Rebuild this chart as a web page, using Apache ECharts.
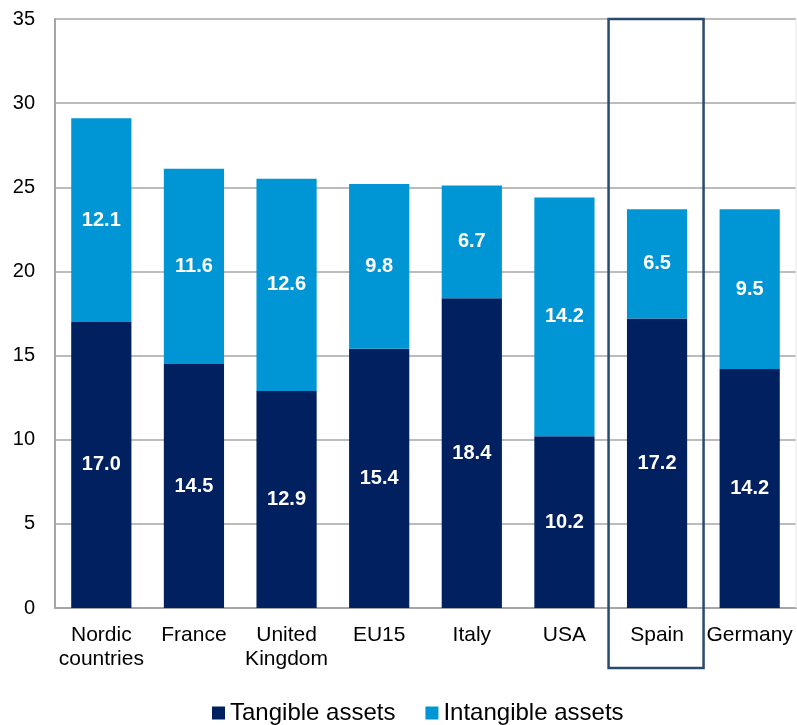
<!DOCTYPE html>
<html>
<head>
<meta charset="utf-8">
<script src="https://cdn.jsdelivr.net/npm/echarts@6/dist/echarts.min.js"></script>
<style>
  html, body { margin: 0; padding: 0; background: #fff; }
  #chart { width: 797px; height: 725px; }
</style>
</head>
<body>
<div id="chart"></div>
<script>
// Categories and asset values per country group
const categories = ['Nordic\ncountries', 'France', 'United\nKingdom', 'EU15', 'Italy', 'USA', 'Spain', 'Germany'];
const tangible = [17.0, 14.5, 12.9, 15.4, 18.4, 10.2, 17.2, 14.2];
const intangible = [12.1, 11.6, 12.6, 9.8, 6.7, 14.2, 6.5, 9.5];
const highlighted = 'Spain';

const FONT = 'Liberation Sans, Arial, sans-serif';
const chart = echarts.init(document.getElementById('chart'));

const labelStyle = {
  show: true,
  position: 'inside',
  color: '#ffffff',
  fontFamily: FONT,
  fontWeight: 'bold',
  fontSize: 20,
  formatter: p => p.value.toFixed(1)
};

chart.setOption({
  animation: false,
  backgroundColor: '#ffffff',
  grid: { left: 55, right: 1, top: 19, bottom: 117, containLabel: false },
  legend: {
    left: 212,
    top: 701,
    padding: 0,
    itemWidth: 13,
    itemHeight: 13,
    itemGap: 30,
    icon: 'rect',
    textStyle: { fontFamily: FONT, fontSize: 24, color: '#000' },
    data: ['Tangible assets', 'Intangible assets']
  },
  xAxis: {
    type: 'category',
    data: categories,
    axisLine: { lineStyle: { color: '#a6a6a6', width: 2 } },
    axisTick: { show: false },
    axisLabel: {
      color: '#000',
      fontFamily: FONT,
      fontSize: 21,
      lineHeight: 24,
      margin: 15,
      interval: 0
    }
  },
  yAxis: {
    type: 'value',
    min: 0,
    max: 35,
    interval: 5,
    axisLine: { show: true, lineStyle: { color: '#a6a6a6', width: 2 } },
    axisTick: { show: false },
    splitLine: { lineStyle: { color: '#a6a6a6', width: 1.5 } },
    axisLabel: { color: '#000', fontFamily: FONT, fontSize: 20, margin: 20 }
  },
  series: [
    {
      name: 'Tangible assets',
      type: 'bar',
      stack: 'assets',
      data: tangible,
      barWidth: '65%',
      itemStyle: { color: '#00205F' },
      label: labelStyle
    },
    {
      name: 'Intangible assets',
      type: 'bar',
      stack: 'assets',
      data: intangible,
      barWidth: '65%',
      itemStyle: { color: '#0096D6' },
      label: labelStyle
    }
  ]
});

// Outline box around the highlighted country, extending under its axis label
const idx = categories.indexOf(highlighted);
const cx = chart.convertToPixel({ xAxisIndex: 0 }, idx);
const yTop = chart.convertToPixel({ yAxisIndex: 0 }, 35);
const yZero = chart.convertToPixel({ yAxisIndex: 0 }, 0);
const halfW = 47.5;
chart.setOption({
  graphic: [
    {
      type: 'rect',
      shape: { x: cx - halfW - 1, y: yTop, width: halfW * 2, height: (yZero - yTop) + 60 },
      style: { fill: 'none', stroke: '#2B4A6F', lineWidth: 2.5 },
      z: 100
    },
    {
      type: 'line',
      shape: { x1: 796, y1: yTop, x2: 796, y2: yZero },
      style: { stroke: '#e6e6e6', lineWidth: 1 },
      z: 1
    }
  ]
});
</script>
</body>
</html>
